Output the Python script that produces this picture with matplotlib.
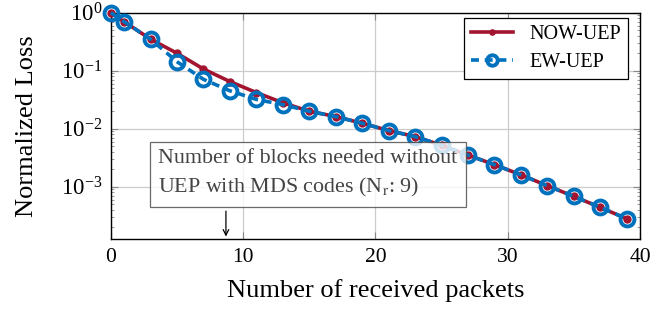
import matplotlib
matplotlib.use("Agg")
import matplotlib.pyplot as plt
import numpy as np

# Data
packets = [0, 1, 3, 5, 7, 9, 11, 13, 15, 17, 19, 21, 23, 25, 27, 29, 31, 33, 35, 37, 39]
now_uep = [1.0, 0.70, 0.35, 0.20, 0.107, 0.065, 0.042, 0.028, 0.020, 0.0162, 0.0124,
           0.0093, 0.0073, 0.0052, 0.0035, 0.0024, 0.0016, 0.00104, 0.00068, 0.00044, 0.00028]
ew_uep = [1.0, 0.70, 0.35, 0.143, 0.071, 0.045, 0.032, 0.026, 0.020, 0.0162, 0.0124,
          0.0093, 0.0073, 0.0052, 0.0035, 0.0024, 0.0016, 0.00104, 0.00068, 0.00044, 0.00028]
labels = ["NOW-UEP", "EW-UEP"]
nr_value = 8.7

plt.rcParams['font.family'] = ['Liberation Serif', 'DejaVu Serif']
plt.rcParams['mathtext.fontset'] = 'stix'

RED = '#A2142F'
BLUE = '#0072BD'

fig = plt.figure(figsize=(6.52, 3.11), dpi=100)
ax = fig.add_axes([0.170, 0.2305, 0.8116, 0.7287])

ax.plot(packets, now_uep, color=RED, lw=2.6, marker='o', ms=5, mfc=RED, mec=RED,
        label=labels[0], zorder=3, clip_on=False)
ax.plot(packets, ew_uep, color=BLUE, lw=2.6, ls=(0, (2.2, 1.6)), marker='o', ms=10,
        mfc='none', mec=BLUE, mew=2.8, label=labels[1], zorder=4, clip_on=False)

ax.set_yscale('log')
ax.set_xlim(0, 40)
ax.set_ylim(1.24e-4, 1.0)
ax.set_xticks([0, 10, 20, 30, 40])
ax.set_yticks([1e0, 1e-1, 1e-2, 1e-3])
ax.grid(True, which='major', color='#cccccc', lw=0.9)
ax.tick_params(which='both', direction='in', top=True, right=True, color='#888888')
ax.tick_params(axis='x', labelsize=15.5, pad=6)
ax.tick_params(axis='y', labelsize=16.5, pad=6)
ax.tick_params(which='major', length=5)
ax.tick_params(which='minor', length=2.5)
ax.tick_params(axis='y', which='minor', left=True, right=True)
ax.set_xlabel('Number of received packets', fontsize=19, labelpad=9)
ax.set_ylabel('Normalized Loss', fontsize=19, labelpad=17)
for s in ax.spines.values():
    s.set_linewidth(1.0)

leg = ax.legend(loc='upper right', bbox_to_anchor=(1 - 12 / 529, 1 - 5 / 227),
                fontsize=14.5, frameon=True, fancybox=False,
                edgecolor='black', framealpha=1, handlelength=2.1, markerscale=0.75,
                borderaxespad=0, borderpad=0.35, labelspacing=0.45)
leg.get_frame().set_linewidth(0.9)

ax.text(3.6, 10**-2.78,
        'Number of blocks needed without\nUEP with MDS codes (N$_{\\mathrm{r}}$: 9)',
        fontsize=15.8, color='#444444', va='center', ha='left', linespacing=1.45, zorder=6,
        bbox=dict(boxstyle='square,pad=0.38', fc='white', ec='#444444', alpha=0.8, lw=0.9))
ax.annotate('', xy=(nr_value, 1.24e-4), xytext=(nr_value, 4.24e-4),
            arrowprops=dict(arrowstyle='->', color='black', lw=0.9), zorder=7)

fig.savefig('out.png', dpi=100)
